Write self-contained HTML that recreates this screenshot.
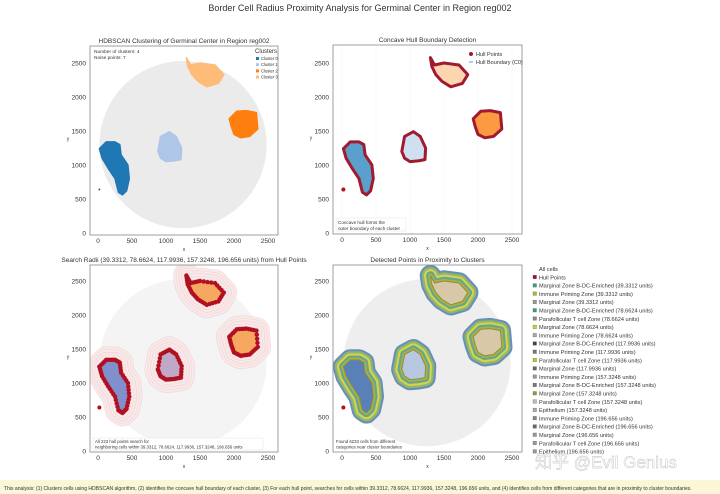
<!DOCTYPE html>
<html><head><meta charset="utf-8"><style>
body{margin:0;background:#fff;}
svg{display:block;font-family:"Liberation Sans","Noto Sans CJK SC",sans-serif;}
</style></head><body>
<svg id="c" width="720" height="494" viewBox="0 0 720 494" xmlns="http://www.w3.org/2000/svg">
<text x="360" y="11" font-size="9" text-anchor="middle" fill="#333">Border Cell Radius Proximity Analysis for Germinal Center in Region reg002</text>
<rect x="0" y="480" width="720" height="14" fill="#fbf6d8"/>
<text x="4" y="490" font-size="5.05" fill="#333">This analysis: (1) Clusters cells using HDBSCAN algorithm, (2) identifies the concave hull boundary of each cluster, (3) For each hull point, searches for cells within 39.3312, 78.6624, 117.9936, 157.3248, 196.656 units, and (4) identifies cells from different categories that are in proximity to cluster boundaries.</text>
</svg>
<script>
const clusterNames=["Cluster 0","Cluster 1","Cluster 2","Cluster 3"];
const clusterColors=["#1f77b4","#aec7e8","#ff7f0e","#ffbb78"];
const cluster0=[[20,1240],[120,1340],[250,1340],[320,1300],[340,1150],[440,1000],[460,800],[420,620],[360,560],[300,600],[250,800],[150,950],[60,1100]];
const cluster1=[[880,1200],[920,1420],[1050,1490],[1150,1420],[1230,1250],[1220,1080],[1120,1060],[1000,1050],[920,1100]];
const cluster2=[[1930,1680],[2040,1790],[2180,1800],[2330,1770],[2350,1530],[2230,1420],[2100,1400],[2000,1450],[1960,1560]];
const cluster3=[[1300,2580],[1360,2470],[1500,2500],[1720,2470],[1850,2330],[1770,2200],[1600,2150],[1470,2230],[1380,2330],[1320,2450]];
const clusters=[cluster0,cluster1,cluster2,cluster3];
const noise=[[20,640]];
const xTicks=[0,500,1000,1500,2000,2500];
const yTicks=[0,500,1000,1500,2000,2500];
const legendItems=["All cells","Hull Points","Marginal Zone B-DC-Enriched (39.3312 units)","Immune Priming Zone (39.3312 units)","Marginal Zone (39.3312 units)","Marginal Zone B-DC-Enriched (78.6624 units)","Parafollicular T cell Zone (78.6624 units)","Marginal Zone (78.6624 units)","Immune Priming Zone (78.6624 units)","Marginal Zone B-DC-Enriched (117.9936 units)","Immune Priming Zone (117.9936 units)","Parafollicular T cell Zone (117.9936 units)","Marginal Zone (117.9936 units)","Immune Priming Zone (157.3248 units)","Marginal Zone B-DC-Enriched (157.3248 units)","Marginal Zone (157.3248 units)","Parafollicular T cell Zone (157.3248 units)","Epithelium (157.3248 units)","Immune Priming Zone (196.656 units)","Marginal Zone B-DC-Enriched (196.656 units)","Marginal Zone (196.656 units)","Parafollicular T cell Zone (196.656 units)","Epithelium (196.656 units)"];
const legendColors=["#ccc","#a01020","#3aa080","#b8b820","#9a9a9a","#3aa080","#888","#d0d020","#aaa","#444","#777","#c8c820","#666","#999","#777","#9a9a30","#bbb","#aaa","#888","#666","#999","#999","#999"];
const radii=[39.3312,78.6624,117.9936,157.3248,196.656];

const NS="http://www.w3.org/2000/svg";
const svg=document.getElementById('c');
function mk(tag,attrs,parent){const e=document.createElementNS(NS,tag);for(const k in attrs)e.setAttribute(k,attrs[k]);(parent||svg).appendChild(e);return e;}
const K=34/500;
function densify(poly,n){const out=[];for(let i=0;i<poly.length;i++){const a=poly[i],b=poly[(i+1)%poly.length];for(let j=0;j<n;j++){out.push([a[0]+(b[0]-a[0])*j/n,a[1]+(b[1]-a[1])*j/n]);}}return out;}

function panel(name,ax,ay,aw,ah,ox,oy,title,mode){
  const g=mk('g',{});
  
  
  const X=v=>ox+v*K, Y=v=>oy-v*K;
  const pts=p=>p.map(q=>X(q[0]).toFixed(1)+','+Y(q[1]).toFixed(1)).join(' ');
  const t=mk('text',{x:ax+aw/2,y:ay-3,'font-size':6.5,'text-anchor':'middle',fill:'#333'},g);t.textContent=title;
  
  const cp='clip'+name;const cl=mk('clipPath',{id:cp},g);mk('rect',{x:ax,y:ay,width:aw,height:ah},cl);
  const pg=mk('g',{'clip-path':'url(#'+cp+')'},g);
  if(mode=='tl'||mode=='br'||mode=='bl'){
    const d=mk('circle',{cx:X(1250),cy:Y(1300),r:1230*K,fill:mode=='tl'?'#ebebeb':(mode=='bl'?'#f4f4f4':'#eeeeee')},pg);
    
  }
  if(mode=='tr'){for(let i=0;i<6;i++){mk('line',{x1:X(i*500),y1:ay,x2:X(i*500),y2:ay+ah,stroke:'#f2f2f2','stroke-width':0.5},pg);}}
  clusters.forEach((c,i)=>{
    if(mode=='tl'){const p=mk('polygon',{points:pts(c),fill:clusterColors[i],stroke:clusterColors[i],'stroke-width':1.5,'stroke-linejoin':'round'},pg);
      }
    if(mode=='tr'){const p=mk('polygon',{points:pts(c),fill:i==0?'#5aa0cc':(i==2?'#fb9a40':(i==3?'#fdd5ae':'#cfe0f0')),stroke:'#a01a30','stroke-width':3,'stroke-linejoin':'round'},pg);
      }
    if(mode=='bl'){
      for(let r=radii.length-1;r>=0;r--){mk('polygon',{points:pts(c),fill:'none',stroke:r%2?'#f4c8b8':'#ecb8d0','stroke-width':radii[r]*K*2,'stroke-linejoin':'round','stroke-opacity':0.5},pg);
        mk('polygon',{points:pts(c),fill:'none',stroke:'#f9eaea','stroke-width':radii[r]*K*2-1.5,'stroke-linejoin':'round'},pg);}
      const p=mk('polygon',{points:pts(c),fill:i==0?'#7f90cc':(i==1?'#c0a8c8':'#f6a860'),stroke:'none'},pg);
      
      densify(c,4).forEach(q=>{const h=mk('circle',{cx:X(q[0]),cy:Y(q[1]),r:2.2,fill:'#b01020'},pg);});
    }
    if(mode=='br'){
      const bands=[['#6890b8',radii[4]],['#90b868',radii[3]],['#d8d050',radii[2]],['#60a890',radii[1]],['#b0b040',radii[0]]];
      bands.forEach(b=>mk('polygon',{points:pts(c),fill:'none',stroke:b[0],'stroke-width':b[1]*K*1.6,'stroke-linejoin':'round'},pg));
      const p=mk('polygon',{points:pts(c),fill:i==0?'#5a80b8':(i==1?'#b8c8e0':'#d8c8a8'),stroke:'#889040','stroke-width':1},pg);
      
    }
  });
  noise.forEach(q=>mk('circle',{cx:X(q[0]),cy:Y(q[1]),r:mode=='tl'?1:2,fill:mode=='tl'?'#555':'#b01020'},pg));
  const fr=mk('rect',{x:ax,y:ay,width:aw,height:ah,fill:'none',stroke:'#888','stroke-width':0.8},g);
  
  xTicks.forEach(v=>{const tt=mk('text',{x:X(v),y:ay+ah+8,'font-size':6.5,'text-anchor':'middle',fill:'#333'},g);tt.textContent=v;});
  yTicks.forEach(v=>{const tt=mk('text',{x:ax-4,y:Y(v)+2.3,'font-size':6.5,'text-anchor':'end',fill:'#333'},g);tt.textContent=v;});
  const xl=mk('text',{x:ax+aw/2,y:ay+ah+16,'font-size':5,'text-anchor':'middle',fill:'#333'},g);xl.textContent='x';
  
  const yl=mk('text',{x:ax-22,y:ay+ah/2,'font-size':5,'text-anchor':'middle',fill:'#333'},g);yl.textContent='y';
  
  return {g,X,Y};
}
const tl=panel('clustering-panel',90,46,188,189,98,233,'HDBSCAN Clustering of Germinal Center in Region reg002','tl');
const tr=panel('hull-panel',333,45,189,189,342,233,'Concave Hull Boundary Detection','tr');
const bl=panel('radii-panel',90,265,188,187,98,451,'Search Radii (39.3312, 78.6624, 117.9936, 157.3248, 196.656 units) from Hull Points','bl');
const br=panel('proximity-panel',333,265,189,187,342,451,'Detected Points in Proximity to Clusters','br');

function txt(g,x,y,s,fs,name,anchor){const t=mk('text',{x:x,y:y,'font-size':fs,fill:'#333','text-anchor':anchor||'start'},g);t.textContent=s;return t;}
txt(tl.g,94,53,'Number of clusters: 4',4.8,'cluster-count-note');
txt(tl.g,94,59,'Noise points: 7',4.8,'noise-count-note');
txt(tl.g,255,53,'Clusters',6,'legend-title');
clusterNames.forEach((n,i)=>{mk('rect',{x:256,y:57+i*6.2,width:3,height:3,fill:clusterColors[i]},tl.g);txt(tl.g,261,60+i*6.2,n,4.2,'legend-entry');});
mk('circle',{cx:471,cy:54,r:2,fill:'#a01a30'},tr.g);txt(tr.g,476,56,'Hull Points',5.5,'legend-entry');
mk('line',{x1:469,y1:62,x2:473,y2:62,stroke:'#5aa0cc','stroke-width':1},tr.g);txt(tr.g,476,64,'Hull Boundary (C0)',5.5,'legend-entry');
mk('rect',{x:336,y:218,width:70,height:13,fill:'#fff',stroke:'#ddd','stroke-width':0.4},tr.g);
txt(tr.g,338,224,'Concave hull forms the',4.6,'hull-note');txt(tr.g,338,230,'outer boundary of each cluster',4.6,'hull-note');
mk('rect',{x:93,y:438,width:170,height:12,fill:'#fff',stroke:'#ddd','stroke-width':0.4},bl.g);
txt(bl.g,95,443,'All 223 hull points search for',4.3,'radii-note');txt(bl.g,95,448.5,'neighboring cells within 39.3312, 78.6624, 117.9936, 157.3248, 196.656 units',4.3,'radii-note');
txt(br.g,336,443,'Found 6233 cells from different',4.3,'proximity-note');txt(br.g,336,448.5,'categories near cluster boundaries',4.3,'proximity-note');
const lg=mk('g',{});


legendItems.forEach((s,i)=>{const y=271+i*8.3;
  if(i>0)mk('rect',{x:533,y:y-4,width:3.5,height:3.5,fill:legendColors[i],stroke:'#555','stroke-width':0.3},lg);
  const t=txt(lg,539,y,s,5.6,'legend-entry');});
const wm=mk('text',{x:535,y:468,'font-size':17,fill:'#ffffff','fill-opacity':0.85,stroke:'#bbb','stroke-width':0.4},svg);
wm.textContent='知乎 @Evil Genius';


</script>
</body></html>
